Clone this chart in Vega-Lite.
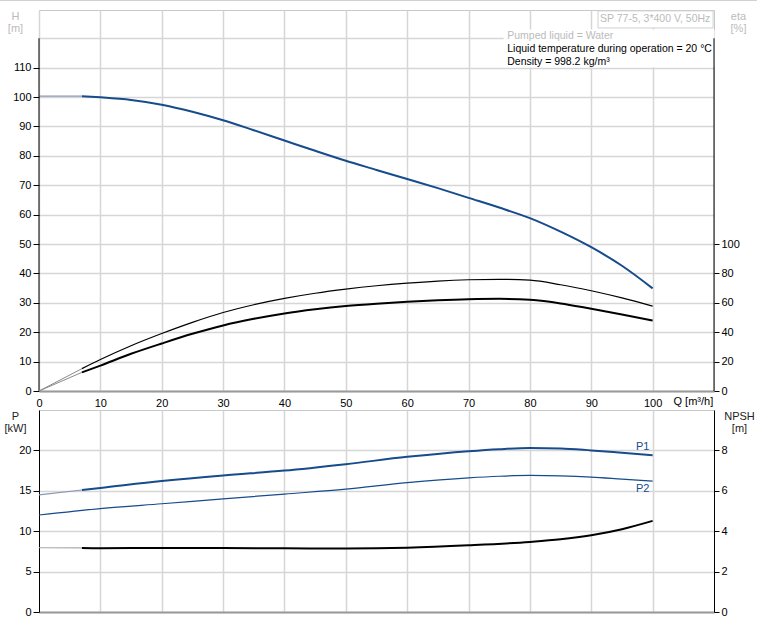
{
  "$schema": "https://vega.github.io/schema/vega-lite/v6.json",
  "autosize": {"type": "none"},
  "padding": {"left": 39, "top": 10, "right": 718, "bottom": 614},
  "background": "white",
  "config": {
    "font": "Liberation Sans",
    "view": {"stroke": "#c8c8c8", "strokeWidth": 1},
    "axis": {
      "labelFont": "Liberation Sans", "labelFontSize": 11, "labelColor": "#000",
      "titleFont": "Liberation Sans", "titleFontSize": 11, "titleFontWeight": "normal",
      "gridColor": "#d6d6d6", "gridWidth": 1.5, "tickColor": "#000", "tickWidth": 1,
      "labelFlush": false, "labelOverlap": false
    },
    "text": {"font": "Liberation Sans", "fontSize": 10.5}
  },
  "datasets": {
    "curves": [
      {"c": "H", "p": "ext", "q": 0, "v": 100.3}, {"c": "H", "p": "ext", "q": 7, "v": 100.3},
      {"c": "H", "p": "op", "q": 7, "v": 100.3}, {"c": "H", "p": "op", "q": 10, "v": 99.9},
      {"c": "H", "p": "op", "q": 15, "v": 99.0}, {"c": "H", "p": "op", "q": 20, "v": 97.4},
      {"c": "H", "p": "op", "q": 25, "v": 95.0}, {"c": "H", "p": "op", "q": 30, "v": 92.1},
      {"c": "H", "p": "op", "q": 35, "v": 88.7}, {"c": "H", "p": "op", "q": 40, "v": 85.2},
      {"c": "H", "p": "op", "q": 45, "v": 81.7}, {"c": "H", "p": "op", "q": 50, "v": 78.3},
      {"c": "H", "p": "op", "q": 55, "v": 75.2}, {"c": "H", "p": "op", "q": 60, "v": 72.1},
      {"c": "H", "p": "op", "q": 65, "v": 69.0}, {"c": "H", "p": "op", "q": 70, "v": 65.7},
      {"c": "H", "p": "op", "q": 75, "v": 62.4}, {"c": "H", "p": "op", "q": 80, "v": 58.8},
      {"c": "H", "p": "op", "q": 85, "v": 54.2}, {"c": "H", "p": "op", "q": 90, "v": 48.9},
      {"c": "H", "p": "op", "q": 95, "v": 42.6}, {"c": "H", "p": "op", "q": 100, "v": 34.9},

      {"c": "eta pump", "p": "ext", "q": 0, "v": 0}, {"c": "eta pump", "p": "ext", "q": 7, "v": 15.2},
      {"c": "eta pump", "p": "op", "q": 7, "v": 15.2}, {"c": "eta pump", "p": "op", "q": 10, "v": 21.4},
      {"c": "eta pump", "p": "op", "q": 15, "v": 30.8}, {"c": "eta pump", "p": "op", "q": 20, "v": 39.1},
      {"c": "eta pump", "p": "op", "q": 25, "v": 46.7}, {"c": "eta pump", "p": "op", "q": 30, "v": 53.4},
      {"c": "eta pump", "p": "op", "q": 35, "v": 58.7}, {"c": "eta pump", "p": "op", "q": 40, "v": 63.0},
      {"c": "eta pump", "p": "op", "q": 45, "v": 66.5}, {"c": "eta pump", "p": "op", "q": 50, "v": 69.3},
      {"c": "eta pump", "p": "op", "q": 55, "v": 71.6}, {"c": "eta pump", "p": "op", "q": 60, "v": 73.4},
      {"c": "eta pump", "p": "op", "q": 65, "v": 74.8}, {"c": "eta pump", "p": "op", "q": 70, "v": 75.7},
      {"c": "eta pump", "p": "op", "q": 75, "v": 76.0}, {"c": "eta pump", "p": "op", "q": 80, "v": 75.4},
      {"c": "eta pump", "p": "op", "q": 85, "v": 72.3}, {"c": "eta pump", "p": "op", "q": 90, "v": 68.2},
      {"c": "eta pump", "p": "op", "q": 95, "v": 63.3}, {"c": "eta pump", "p": "op", "q": 100, "v": 57.7},

      {"c": "eta total", "p": "ext", "q": 0, "v": 0}, {"c": "eta total", "p": "ext", "q": 7, "v": 12.7},
      {"c": "eta total", "p": "op", "q": 7, "v": 12.7}, {"c": "eta total", "p": "op", "q": 10, "v": 17.3},
      {"c": "eta total", "p": "op", "q": 15, "v": 25.3}, {"c": "eta total", "p": "op", "q": 20, "v": 32.3},
      {"c": "eta total", "p": "op", "q": 25, "v": 38.9}, {"c": "eta total", "p": "op", "q": 30, "v": 44.6},
      {"c": "eta total", "p": "op", "q": 35, "v": 49.1}, {"c": "eta total", "p": "op", "q": 40, "v": 52.8},
      {"c": "eta total", "p": "op", "q": 45, "v": 55.6}, {"c": "eta total", "p": "op", "q": 50, "v": 57.8},
      {"c": "eta total", "p": "op", "q": 55, "v": 59.4}, {"c": "eta total", "p": "op", "q": 60, "v": 60.7},
      {"c": "eta total", "p": "op", "q": 65, "v": 61.7}, {"c": "eta total", "p": "op", "q": 70, "v": 62.4},
      {"c": "eta total", "p": "op", "q": 75, "v": 62.7}, {"c": "eta total", "p": "op", "q": 80, "v": 62.0},
      {"c": "eta total", "p": "op", "q": 85, "v": 59.6}, {"c": "eta total", "p": "op", "q": 90, "v": 55.9},
      {"c": "eta total", "p": "op", "q": 95, "v": 52.1}, {"c": "eta total", "p": "op", "q": 100, "v": 47.9},

      {"c": "P1", "p": "ext", "q": 0, "v": 14.5}, {"c": "P1", "p": "ext", "q": 7, "v": 15.1},
      {"c": "P1", "p": "op", "q": 7, "v": 15.1}, {"c": "P1", "p": "op", "q": 10, "v": 15.35},
      {"c": "P1", "p": "op", "q": 20, "v": 16.2}, {"c": "P1", "p": "op", "q": 30, "v": 16.9},
      {"c": "P1", "p": "op", "q": 40, "v": 17.5}, {"c": "P1", "p": "op", "q": 50, "v": 18.3},
      {"c": "P1", "p": "op", "q": 60, "v": 19.2}, {"c": "P1", "p": "op", "q": 70, "v": 19.9},
      {"c": "P1", "p": "op", "q": 75, "v": 20.15}, {"c": "P1", "p": "op", "q": 80, "v": 20.3},
      {"c": "P1", "p": "op", "q": 85, "v": 20.25}, {"c": "P1", "p": "op", "q": 90, "v": 20.0},
      {"c": "P1", "p": "op", "q": 95, "v": 19.7}, {"c": "P1", "p": "op", "q": 100, "v": 19.4},

      {"c": "P2", "p": "op", "q": 0, "v": 12.0}, {"c": "P2", "p": "op", "q": 10, "v": 12.8},
      {"c": "P2", "p": "op", "q": 20, "v": 13.4}, {"c": "P2", "p": "op", "q": 30, "v": 14.0},
      {"c": "P2", "p": "op", "q": 40, "v": 14.6}, {"c": "P2", "p": "op", "q": 50, "v": 15.2},
      {"c": "P2", "p": "op", "q": 60, "v": 16.0}, {"c": "P2", "p": "op", "q": 70, "v": 16.6},
      {"c": "P2", "p": "op", "q": 75, "v": 16.8}, {"c": "P2", "p": "op", "q": 80, "v": 16.9},
      {"c": "P2", "p": "op", "q": 85, "v": 16.85}, {"c": "P2", "p": "op", "q": 90, "v": 16.7},
      {"c": "P2", "p": "op", "q": 95, "v": 16.45}, {"c": "P2", "p": "op", "q": 100, "v": 16.2},

      {"c": "NPSH", "p": "ext", "q": 0, "v": 3.18}, {"c": "NPSH", "p": "ext", "q": 7, "v": 3.17},
      {"c": "NPSH", "p": "op", "q": 7, "v": 3.17}, {"c": "NPSH", "p": "op", "q": 10, "v": 3.16},
      {"c": "NPSH", "p": "op", "q": 20, "v": 3.17}, {"c": "NPSH", "p": "op", "q": 30, "v": 3.17},
      {"c": "NPSH", "p": "op", "q": 40, "v": 3.15}, {"c": "NPSH", "p": "op", "q": 50, "v": 3.14},
      {"c": "NPSH", "p": "op", "q": 60, "v": 3.18}, {"c": "NPSH", "p": "op", "q": 70, "v": 3.30},
      {"c": "NPSH", "p": "op", "q": 80, "v": 3.47}, {"c": "NPSH", "p": "op", "q": 85, "v": 3.6},
      {"c": "NPSH", "p": "op", "q": 90, "v": 3.8}, {"c": "NPSH", "p": "op", "q": 95, "v": 4.1},
      {"c": "NPSH", "p": "op", "q": 100, "v": 4.51}
    ],
    "info": [
      {"t": "Pumped liquid = Water", "k": "grey", "row": 0},
      {"t": "Liquid temperature during operation = 20 °C", "k": "black", "row": 1},
      {"t": "Density = 998.2 kg/m³", "k": "black", "row": 2}
    ],
    "pumpname": [{"t": "SP 77-5, 3*400 V, 50Hz"}]
  },
  "bounds": "flush",
  "spacing": 19,
  "vconcat": [
    {
      "width": 675,
      "height": 381,
      "layer": [
        {
          "data": {"name": "curves"},
          "layer": [
            {
              "transform": [{"filter": "datum.c == 'H' && datum.p == 'ext'"}],
              "mark": {"type": "line", "color": "#8796b4", "strokeWidth": 1.2, "interpolate": "monotone"},
              "encoding": {
                "x": {
                  "field": "q", "type": "quantitative",
                  "scale": {"domain": [0, 110], "nice": false, "zero": false},
                  "axis": {
                    "values": [0, 10, 20, 30, 40, 50, 60, 70, 80, 90, 100],
                    "grid": true, "ticks": false, "tickSize": 0, "labelPadding": 6,
                    "domainColor": "#9a9a9a", "domainWidth": 2,
                    "title": "Q [m³/h]", "titleColor": "#000", "titleAngle": 0,
                    "titleAlign": "left", "titleBaseline": "middle", "titleAnchor": "start",
                    "titleX": 634, "titleY": 10.5
                  }
                },
                "y": {
                  "field": "v", "type": "quantitative",
                  "scale": {"domain": [0, 129.6], "nice": false, "zero": false},
                  "axis": {
                    "orient": "left",
                    "values": [0, 10, 20, 30, 40, 50, 60, 70, 80, 90, 100, 110, 120],
                    "tickCount": 30, "format": "d",
                    "labelExpr": "datum.value > 110 ? '' : datum.label",
                    "tickOpacity": {"condition": {"test": "datum.value > 110", "value": 0}, "value": 1},
                    "tickSize": 6, "labelPadding": 2, "domain": false, "grid": true,
                    "title": ["H", "[m]"], "titleColor": "#bbbbbb", "titleAngle": 0,
                    "titleAlign": "center", "titleBaseline": "top", "titleX": -24, "titleY": 0,
                    "titleLineHeight": 12.5
                  }
                }
              }
            },
            {
              "transform": [{"filter": "datum.c == 'H' && datum.p == 'op'"}],
              "mark": {"type": "line", "color": "#164b8c", "strokeWidth": 2, "interpolate": "monotone"},
              "encoding": {
                "x": {"field": "q", "type": "quantitative"},
                "y": {"field": "v", "type": "quantitative"}
              }
            }
          ]
        },
        {
          "layer": [
            {
              "data": {"name": "pumpname"},
              "mark": {"type": "rect", "fill": "white", "stroke": "white"},
              "encoding": {
                "x": {"datum": 75.8, "type": "quantitative", "scale": {"domain": [0, 110], "nice": false, "zero": false}, "axis": null},
                "x2": {"datum": 110},
                "y": {"datum": 122.8, "type": "quantitative", "scale": {"domain": [0, 129.6], "nice": false, "zero": false}, "axis": null},
                "y2": {"datum": 110.3}
              }
            },
            {
              "data": {"name": "pumpname"},
              "mark": {"type": "rule", "color": "#cfcfcf", "strokeWidth": 1},
              "encoding": {
                "x": {"datum": -6.36, "type": "quantitative"},
                "x2": {"datum": 117},
                "y": {"datum": 132.85, "type": "quantitative"}
              }
            },
            {
              "data": {"name": "pumpname"},
              "mark": {"type": "rect", "fill": "white", "stroke": "#d0d0d0", "strokeWidth": 1},
              "encoding": {
                "x": {"datum": 91.1, "type": "quantitative"},
                "x2": {"datum": 109.85},
                "y": {"datum": 129.3, "type": "quantitative"},
                "y2": {"datum": 123.5}
              }
            },
            {
              "data": {"name": "pumpname"},
              "mark": {"type": "text", "align": "right", "baseline": "middle", "color": "#bbbbbb"},
              "encoding": {
                "x": {"datum": 109.4, "type": "quantitative"},
                "y": {"datum": 126.4, "type": "quantitative"},
                "text": {"field": "t"}
              }
            },
            {
              "data": {"name": "info"},
              "mark": {"type": "text", "align": "left", "baseline": "middle"},
              "encoding": {
                "x": {"datum": 76.3, "type": "quantitative"},
                "y": {"datum": 120.8, "type": "quantitative"},
                "yOffset": {"field": "row", "type": "quantitative", "scale": {"domain": [0, 2], "range": [0, 26]}},
                "text": {"field": "t"},
                "color": {"field": "k", "type": "nominal", "scale": {"domain": ["grey", "black"], "range": ["#bbbbbb", "#000000"]}, "legend": null}
              }
            },
            {
              "data": {"name": "pumpname"},
              "mark": {"type": "rule", "color": "#000000", "strokeWidth": 1},
              "encoding": {"x": {"datum": 0, "type": "quantitative"}, "y": {"datum": 0, "type": "quantitative"}, "y2": {"datum": 120}}
            },
            {
              "data": {"name": "pumpname"},
              "mark": {"type": "rule", "color": "#000000", "strokeWidth": 1},
              "encoding": {"x": {"datum": 110, "type": "quantitative"}, "y": {"datum": 0, "type": "quantitative"}, "y2": {"datum": 120}}
            }
          ]
        },
        {
          "data": {"name": "curves"},
          "layer": [
            {
              "transform": [{"filter": "datum.c == 'eta total' && datum.p == 'op'"}],
              "mark": {"type": "line", "color": "#000000", "strokeWidth": 2, "interpolate": "monotone"},
              "encoding": {
                "x": {"field": "q", "type": "quantitative", "scale": {"domain": [0, 110], "nice": false, "zero": false}, "axis": null},
                "y": {
                  "field": "v", "type": "quantitative",
                  "scale": {"domain": [0, 259.2], "nice": false, "zero": false},
                  "axis": {
                    "orient": "right", "values": [0, 20, 40, 60, 80, 100],
                    "tickSize": 5, "labelPadding": 2, "domain": false, "grid": false,
                    "title": ["eta", "[%]"], "titleColor": "#bbbbbb", "titleAngle": 0,
                    "titleAlign": "center", "titleBaseline": "top", "titleX": 24, "titleY": 0,
                    "titleLineHeight": 12.5
                  }
                }
              }
            },
            {
              "transform": [{"filter": "datum.c == 'eta pump' && datum.p == 'ext'"}],
              "mark": {"type": "line", "color": "#8a8a8a", "strokeWidth": 1, "interpolate": "monotone"},
              "encoding": {"x": {"field": "q", "type": "quantitative"}, "y": {"field": "v", "type": "quantitative"}}
            },
            {
              "transform": [{"filter": "datum.c == 'eta total' && datum.p == 'ext'"}],
              "mark": {"type": "line", "color": "#8a8a8a", "strokeWidth": 1, "interpolate": "monotone"},
              "encoding": {"x": {"field": "q", "type": "quantitative"}, "y": {"field": "v", "type": "quantitative"}}
            },
            {
              "transform": [{"filter": "datum.c == 'eta pump' && datum.p == 'op'"}],
              "mark": {"type": "line", "color": "#000000", "strokeWidth": 1.2, "interpolate": "monotone"},
              "encoding": {"x": {"field": "q", "type": "quantitative"}, "y": {"field": "v", "type": "quantitative"}}
            }
          ]
        }
      ],
      "resolve": {
        "scale": {"x": "independent", "y": "independent"},
        "axis": {"x": "independent", "y": "independent"}
      }
    },
    {
      "width": 675,
      "height": 202,
      "data": {"name": "curves"},
      "layer": [
        {
          "layer": [
            {
              "transform": [{"filter": "datum.c == 'P1' && datum.p == 'op'"}],
              "mark": {"type": "line", "color": "#164b8c", "strokeWidth": 2, "interpolate": "monotone"},
              "encoding": {
                "x": {
                  "field": "q", "type": "quantitative",
                  "scale": {"domain": [0, 110], "nice": false, "zero": false},
                  "axis": {
                    "values": [10, 20, 30, 40, 50, 60, 70, 80, 90, 100],
                    "grid": true, "labels": false, "ticks": false, "tickSize": 0,
                    "domainColor": "#9a9a9a", "domainWidth": 2, "title": null
                  }
                },
                "y": {
                  "field": "v", "type": "quantitative",
                  "scale": {"domain": [0, 25], "nice": false, "zero": false},
                  "axis": {
                    "orient": "left", "values": [0, 5, 10, 15, 20],
                    "tickSize": 6, "labelPadding": 2, "domain": true, "domainColor": "#000", "grid": true,
                    "title": ["P", "[kW]"], "titleColor": "#222222", "titleAngle": 0,
                    "titleAlign": "center", "titleBaseline": "top", "titleX": -24, "titleY": 0,
                    "titleLineHeight": 12.5
                  }
                }
              }
            },
            {
              "transform": [{"filter": "datum.c == 'P1' && datum.p == 'ext'"}],
              "mark": {"type": "line", "color": "#8796b4", "strokeWidth": 1.2, "interpolate": "monotone"},
              "encoding": {"x": {"field": "q", "type": "quantitative"}, "y": {"field": "v", "type": "quantitative"}}
            },
            {
              "transform": [{"filter": "datum.c == 'P2'"}],
              "mark": {"type": "line", "color": "#164b8c", "strokeWidth": 1.2, "interpolate": "monotone"},
              "encoding": {"x": {"field": "q", "type": "quantitative"}, "y": {"field": "v", "type": "quantitative"}}
            },
            {
              "transform": [{"filter": "datum.c == 'P1' && datum.q == 100"}],
              "mark": {"type": "text", "color": "#164b8c", "fontSize": 11, "dx": -10, "dy": -8, "align": "center", "baseline": "middle"},
              "encoding": {"x": {"field": "q", "type": "quantitative"}, "y": {"field": "v", "type": "quantitative"}, "text": {"field": "c"}}
            },
            {
              "transform": [{"filter": "datum.c == 'P2' && datum.q == 100"}],
              "mark": {"type": "text", "color": "#164b8c", "fontSize": 11, "dx": -10, "dy": 8, "align": "center", "baseline": "middle"},
              "encoding": {"x": {"field": "q", "type": "quantitative"}, "y": {"field": "v", "type": "quantitative"}, "text": {"field": "c"}}
            }
          ]
        },
        {
          "layer": [
            {
              "transform": [{"filter": "datum.c == 'NPSH' && datum.p == 'op'"}],
              "mark": {"type": "line", "color": "#000000", "strokeWidth": 2, "interpolate": "monotone"},
              "encoding": {
                "x": {"field": "q", "type": "quantitative"},
                "y": {
                  "field": "v", "type": "quantitative",
                  "scale": {"domain": [0, 10], "nice": false, "zero": false},
                  "axis": {
                    "orient": "right", "values": [0, 2, 4, 6, 8],
                    "tickSize": 5, "labelPadding": 2, "domain": true, "domainColor": "#000", "grid": false,
                    "title": ["NPSH", "[m]"], "titleColor": "#222222", "titleAngle": 0,
                    "titleAlign": "center", "titleBaseline": "top", "titleX": 25, "titleY": 0,
                    "titleLineHeight": 12.5
                  }
                }
              }
            },
            {
              "transform": [{"filter": "datum.c == 'NPSH' && datum.p == 'ext'"}],
              "mark": {"type": "line", "color": "#aaaaaa", "strokeWidth": 1.2, "interpolate": "monotone"},
              "encoding": {"x": {"field": "q", "type": "quantitative"}, "y": {"field": "v", "type": "quantitative"}}
            }
          ]
        }
      ],
      "resolve": {"scale": {"y": "independent"}, "axis": {"y": "independent"}}
    }
  ]
}
